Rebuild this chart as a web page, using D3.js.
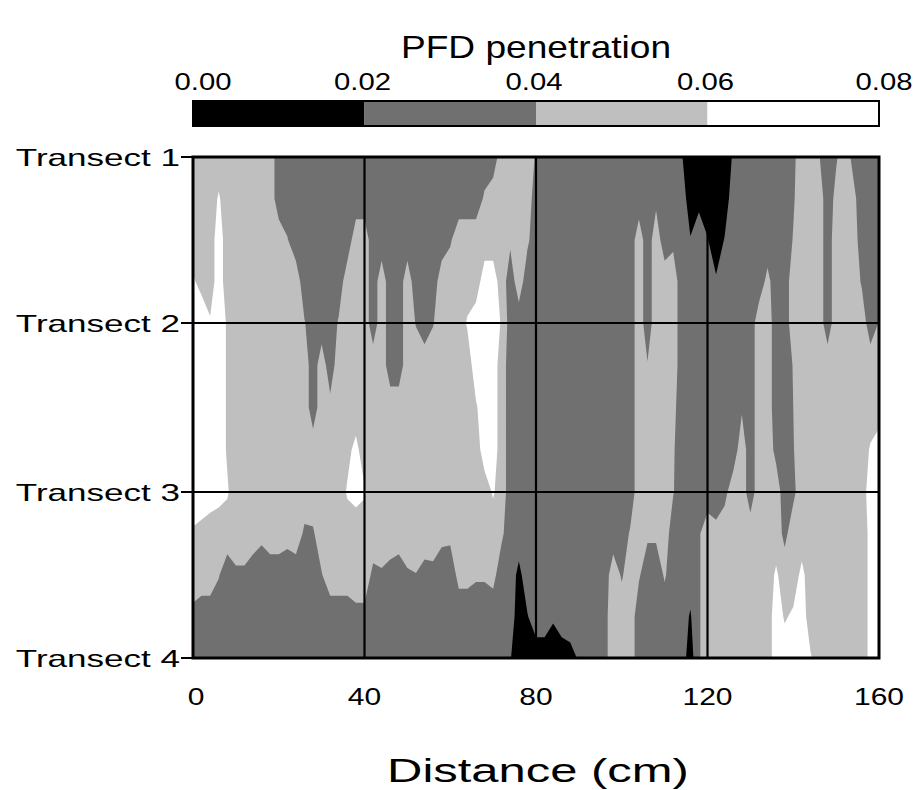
<!DOCTYPE html>
<html><head><meta charset="utf-8">
<script src="https://cdn.jsdelivr.net/npm/d3@7"></script>
<style>body{margin:0;background:#fff}svg{display:block}</style>
</head><body>
<svg id="chart" width="913" height="790"></svg>
<script>
// ---------- data ----------
const chartTitle = "PFD penetration";
const xTitle = "Distance (cm)";
const distanceTicks = [0, 40, 80, 120, 160];
const transectLabels = ["Transect 1", "Transect 2", "Transect 3", "Transect 4"];
const legendBreaks = [0.00, 0.02, 0.04, 0.06, 0.08];
const sampleStepCm = 2;          // readings every 2 cm along each row
const rowsPerTransectGap = 4;    // rows at quarter spacing between transects

// PFD penetration field, rows from Transect 1 (top) to Transect 4 (bottom)
const pfdT1_00 = [.05,.05,.05,.05,.05,.05,.05,.05,.05,.05,
 .03,.03,.03,.03,.03,.03,.03,.03,.03,.03,
 .03,.03,.03,.03,.03,.03,.03,.03,.03,.03,
 .03,.03,.03,.03,.03,.03,.05,.05,.05,.05,
 .038,.03,.03,.03,.03,.03,.03,.03,.03,.03,
 .03,.03,.03,.03,.03,.03,.03,.021,.01,.01,
 .01,.01,.01,.022,.03,.03,.03,.03,.03,.03,
 .036,.05,.05,.041,.03,.038,.05,.035,.03,.03,
 .03];
const pfdT1_25 = [.05,.05,.05,.062,.05,.05,.05,.05,.05,.05,
 .03,.03,.03,.03,.03,.03,.03,.03,.03,.03,
 .03,.03,.03,.03,.03,.03,.03,.03,.03,.03,
 .03,.03,.03,.03,.0425,.05,.05,.05,.05,.05,
 .03,.03,.03,.03,.03,.03,.03,.03,.03,.03,
 .03,.03,.03,.03,.036,.03,.03,.03,.01,.015,
 .01,.01,.01,.03,.03,.03,.03,.03,.03,.03,
 .038,.05,.05,.05,.03,.045,.05,.045,.03,.03,
 .03];
const pfdT1_50 = [.05,.05,.05,.07,.05,.05,.05,.05,.05,.05,
 .05,.041,.03,.03,.03,.03,.03,.03,.03,.05,
 .05,.03,.03,.03,.03,.03,.03,.03,.03,.03,
 .038,.05,.05,.05,.05,.05,.05,.043,.05,.043,
 .03,.03,.03,.03,.03,.03,.03,.03,.03,.03,
 .03,.03,.05,.03,.05,.03,.036,.03,.021,.03,
 .021,.01,.021,.03,.03,.03,.03,.03,.03,.03,
 .041,.05,.05,.05,.03,.05,.05,.05,.03,.03,
 .03];
const pfdT1_75 = [.062,.055,.05,.07,.05,.05,.05,.05,.05,.05,
 .05,.05,.05,.03,.03,.03,.03,.03,.05,.05,
 .05,.03,.05,.03,.03,.05,.03,.03,.03,.05,
 .05,.05,.05,.05,.07,.07,.05,.03,.05,.03,
 .03,.03,.03,.03,.03,.03,.03,.03,.03,.03,
 .03,.03,.05,.03,.05,.05,.05,.03,.03,.03,
 .03,.022,.03,.03,.03,.03,.03,.045,.03,.03,
 .05,.05,.05,.05,.03,.05,.05,.05,.038,.03,
 .03];
const pfdT2_00 = [.07,.07,.062,.07,.058,.05,.05,.05,.05,.05,
 .05,.05,.05,.041,.03,.03,.03,.042,.05,.05,
 .05,.03,.05,.03,.03,.05,.039,.03,.039,.05,
 .05,.05,.062,.07,.07,.07,.058,.03,.03,.03,
 .03,.03,.03,.03,.03,.03,.03,.03,.03,.03,
 .03,.03,.05,.03,.05,.05,.05,.03,.03,.03,
 .03,.03,.03,.03,.03,.03,.05,.05,.03,.03,
 .05,.05,.05,.05,.03,.05,.05,.05,.05,.03,
 .041];
const pfdT2_25 = [.07,.07,.07,.07,.058,.05,.05,.05,.05,.05,
 .05,.05,.05,.05,.03,.05,.03,.05,.05,.05,
 .05,.05,.05,.03,.03,.05,.05,.05,.05,.05,
 .05,.05,.05,.07,.07,.07,.05,.03,.03,.03,
 .03,.03,.03,.03,.03,.03,.03,.03,.03,.03,
 .03,.03,.05,.041,.05,.05,.05,.03,.03,.03,
 .03,.03,.03,.03,.03,.03,.05,.05,.03,.03,
 .041,.05,.05,.05,.05,.05,.05,.05,.05,.05,
 .05];
const pfdT2_50 = [.07,.07,.07,.07,.058,.05,.05,.05,.05,.05,
 .05,.05,.05,.05,.03,.05,.045,.05,.05,.05,
 .05,.05,.05,.05,.05,.05,.05,.05,.05,.05,
 .05,.05,.05,.058,.07,.07,.05,.03,.03,.03,
 .03,.03,.03,.03,.03,.03,.03,.03,.03,.03,
 .03,.03,.05,.05,.05,.05,.045,.03,.03,.03,
 .03,.03,.03,.03,.038,.03,.05,.05,.03,.03,
 .04,.05,.05,.05,.05,.05,.05,.05,.05,.05,
 .05];
const pfdT2_75 = [.07,.07,.07,.07,.058,.05,.05,.05,.05,.05,
 .05,.05,.05,.05,.05,.05,.05,.05,.055,.065,
 .05,.05,.05,.05,.05,.05,.05,.05,.05,.05,
 .05,.05,.05,.05,.07,.07,.05,.03,.03,.03,
 .03,.03,.03,.03,.03,.03,.03,.03,.03,.03,
 .03,.03,.05,.05,.05,.05,.042,.03,.03,.03,
 .03,.03,.03,.03,.05,.03,.05,.05,.035,.03,
 .039,.05,.05,.05,.05,.05,.05,.05,.05,.062,
 .07];
const pfdT3_00 = [.07,.07,.07,.066,.062,.05,.05,.05,.05,.05,
 .05,.05,.05,.05,.05,.05,.05,.05,.062,.066,
 .062,.05,.05,.05,.05,.05,.05,.05,.05,.05,
 .05,.05,.05,.05,.05,.062,.05,.03,.03,.03,
 .03,.03,.03,.03,.03,.03,.03,.03,.03,.03,
 .03,.03,.05,.05,.05,.05,.041,.03,.03,.03,
 .03,.03,.035,.05,.05,.03,.05,.05,.05,.03,
 .036,.05,.05,.05,.05,.05,.05,.05,.05,.07,
 .07];
const pfdT3_25 = [.058,.055,.05,.05,.05,.05,.05,.05,.044,.05,
 .05,.046,.05,.037,.038,.05,.05,.05,.05,.05,
 .05,.05,.05,.05,.05,.05,.05,.05,.05,.045,
 .044,.05,.05,.05,.05,.05,.043,.03,.03,.03,
 .03,.03,.03,.03,.03,.03,.03,.03,.03,.03,
 .03,.042,.05,.043,.043,.05,.03,.03,.03,.038,
 .05,.045,.05,.05,.05,.05,.05,.05,.05,.035,
 .05,.05,.05,.05,.05,.05,.05,.05,.05,.065,
 .07];
const pfdT3_50 = [.05,.05,.05,.041,.03,.037,.037,.03,.03,.03,
 .03,.03,.03,.03,.03,.039,.05,.05,.05,.05,
 .05,.036,.038,.034,.03,.038,.0395,.034,.035,.03,
 .03,.045,.045,.042,.042,.045,.03,.03,.015,.03,
 .03,.03,.03,.03,.03,.03,.03,.03,.03,.05,
 .038,.05,.042,.03,.03,.042,.03,.03,.03,.038,
 .05,.05,.05,.05,.05,.05,.05,.05,.063,.05,
 .05,.065,.05,.05,.05,.05,.05,.05,.05,.065,
 .07];
const pfdT3_75 = [.035,.03,.03,.03,.03,.03,.03,.03,.03,.03,
 .03,.03,.03,.03,.03,.03,.03,.03,.03,.035,
 .035,.03,.03,.03,.03,.03,.03,.03,.03,.03,
 .03,.03,.03,.03,.03,.03,.03,.03,.01,.019,
 .03,.03,.022,.03,.03,.03,.03,.03,.03,.058,
 .05,.05,.03,.03,.03,.03,.03,.03,.018,.038,
 .05,.05,.05,.05,.05,.05,.05,.05,.07,.058,
 .063,.07,.05,.05,.05,.05,.05,.05,.05,.065,
 .07];
const pfdT4_00 = [.03,.03,.03,.03,.03,.03,.03,.03,.03,.03,
 .03,.03,.03,.03,.03,.03,.03,.03,.03,.03,
 .03,.03,.03,.03,.03,.03,.03,.03,.03,.03,
 .03,.03,.03,.03,.03,.03,.03,.021,.01,.01,
 .01,.01,.01,.01,.014,.022,.03,.03,.03,.058,
 .05,.05,.03,.03,.03,.03,.03,.03,.01,.038,
 .05,.05,.05,.05,.05,.05,.05,.05,.07,.07,
 .07,.07,.062,.05,.05,.05,.05,.05,.05,.065,
 .07];

// ---------- drawing ----------
const rows = [pfdT1_00, pfdT1_25, pfdT1_50, pfdT1_75, pfdT2_00, pfdT2_25, pfdT2_50, pfdT2_75,
              pfdT3_00, pfdT3_25, pfdT3_50, pfdT3_75, pfdT4_00];
const nx = pfdT1_00.length, ny = rows.length;
const classColors = ["#000000", "#707070", "#bfbfbf", "#ffffff"];
const FONT = "'Liberation Sans', Arial, Helvetica, sans-serif";

const svg = d3.select("#chart");
const P = {x0: 193, x1: 879, y0: 157, y1: 658};
const x = d3.scaleLinear().domain([0, 160]).range([P.x0, P.x1]);
const y = d3.scaleLinear().domain([1, 2, 3, 4]).range([157, 323, 492, 658]);

svg.append("clipPath").attr("id", "plotClip")
  .append("rect").attr("x", P.x0).attr("y", P.y0).attr("width", P.x1 - P.x0).attr("height", P.y1 - P.y0);

const gPlot = svg.append("g").attr("clip-path", "url(#plotClip)");
gPlot.append("rect").attr("x", P.x0).attr("y", P.y0).attr("width", P.x1 - P.x0).attr("height", P.y1 - P.y0)
  .attr("fill", classColors[0]);

const values = rows.flat();
const contours = d3.contours().size([nx, ny]).thresholds(legendBreaks.slice(1, 4))(values);
const proj = d3.geoTransform({
  point: function (gx, gy) {
    const dist = (gx - 0.5) * sampleStepCm;
    const tr = 1 + (gy - 0.5) / rowsPerTransectGap;
    this.stream.point(x(dist), y(tr));
  }
});
const path = d3.geoPath(proj);
gPlot.selectAll("path.band").data(contours).join("path")
  .attr("class", "band")
  .attr("d", path)
  .attr("fill", (d, i) => classColors[i + 1]);

// grid lines
const gGrid = svg.append("g").attr("stroke", "#000").attr("stroke-width", 2.2);
gGrid.selectAll("line.v").data(distanceTicks.slice(1, -1)).join("line")
  .attr("x1", d => x(d)).attr("x2", d => x(d)).attr("y1", P.y0).attr("y2", P.y1);
gGrid.selectAll("line.h").data([2, 3]).join("line")
  .attr("x1", P.x0).attr("x2", P.x1).attr("y1", d => y(d)).attr("y2", d => y(d));
svg.append("rect").attr("x", P.x0).attr("y", P.y0).attr("width", P.x1 - P.x0).attr("height", P.y1 - P.y0)
  .attr("fill", "none").attr("stroke", "#000").attr("stroke-width", 3);

// y ticks + labels
svg.append("g").selectAll("line").data(transectLabels).join("line")
  .attr("x1", P.x0 - 12).attr("x2", P.x0).attr("y1", (d, i) => y(i + 1)).attr("y2", (d, i) => y(i + 1))
  .attr("stroke", "#000").attr("stroke-width", 2);

function stretchedText(g, txt, tx, ty, size, anchor, sx) {
  return g.append("text").text(txt)
    .attr("transform", `translate(${tx},${ty}) scale(${sx},1)`)
    .attr("text-anchor", anchor).attr("font-family", FONT).attr("font-size", size).attr("fill", "#000");
}
const gText = svg.append("g");
transectLabels.forEach((t, i) => stretchedText(gText, t, 180, y(i + 1) + 9, 24, "end", 1.46));
distanceTicks.forEach(d => stretchedText(gText, String(d), x(d) + (d === 0 ? 3 : 0), 705, 24, "middle", 1.25));
stretchedText(gText, xTitle, 538, 782, 34, "middle", 1.44);
stretchedText(gText, chartTitle, 536, 58, 32, "middle", 1.16);

// legend
const lx = d3.scaleLinear().domain([0, 0.08]).range([P.x0, P.x1]);
const gLeg = svg.append("g");
gLeg.selectAll("rect.sw").data(legendBreaks.slice(0, 4)).join("rect")
  .attr("x", d => lx(d)).attr("y", 101).attr("width", d => lx(d + 0.02) - lx(d)).attr("height", 25)
  .attr("fill", (d, i) => classColors[i]);
gLeg.append("rect").attr("x", P.x0).attr("y", 101).attr("width", P.x1 - P.x0).attr("height", 25)
  .attr("fill", "none").attr("stroke", "#000").attr("stroke-width", 2);
legendBreaks.forEach(v => stretchedText(gLeg, d3.format(".2f")(v), lx(v) + (v === 0 ? 10 : v === 0.08 ? 5 : -2), 90, 24, "middle", 1.22));
</script>
</body></html>
